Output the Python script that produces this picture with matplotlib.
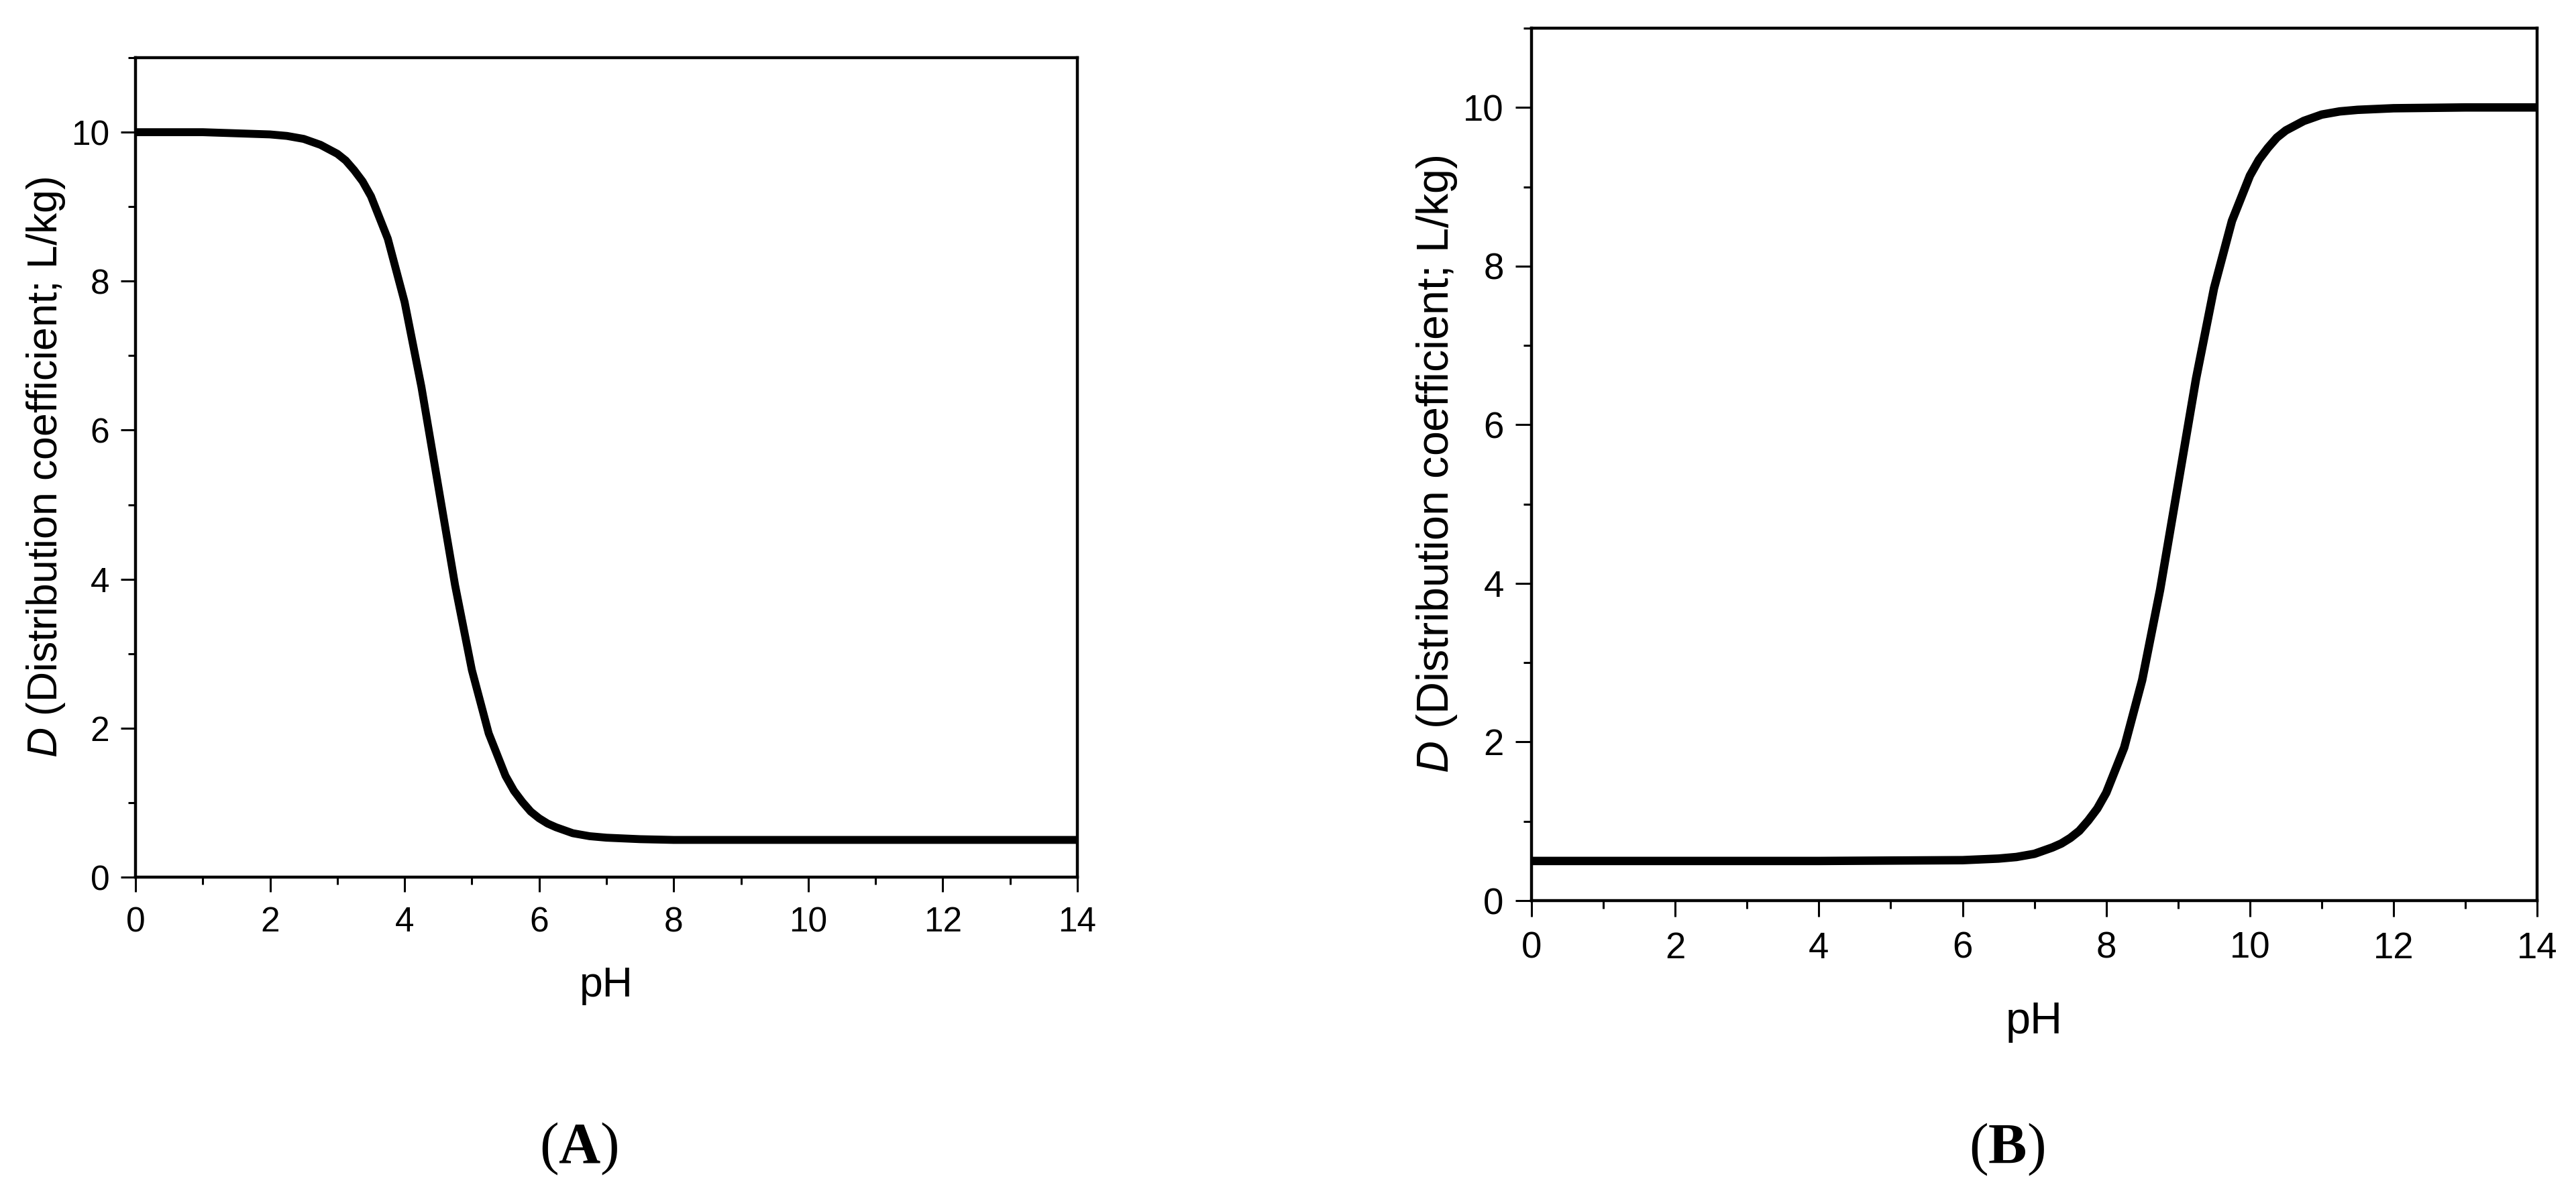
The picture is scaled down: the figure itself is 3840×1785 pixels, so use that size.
import matplotlib
matplotlib.use('Agg')
import matplotlib.pyplot as plt
from matplotlib.ticker import MultipleLocator

plt.rcParams['font.family'] = ['Liberation Sans', 'DejaVu Sans']
plt.rcParams['mathtext.fontset'] = 'custom'
plt.rcParams['mathtext.it'] = 'Liberation Sans:italic'
plt.rcParams['mathtext.rm'] = 'Liberation Sans'
plt.rcParams['mathtext.bf'] = 'Liberation Serif:bold'

# valori (pH, D)
ph_a = [0, 1, 2, 2.25, 2.5, 2.75, 3.0, 3.125, 3.25, 3.375, 3.5, 3.75, 4.0, 4.25, 4.5, 4.75,
        5.0, 5.25, 5.5, 5.625, 5.75, 5.875, 6.0, 6.125, 6.25, 6.5, 6.75, 7.0, 7.5, 8.0, 10, 12, 14]
d_a = [10.0, 10.0, 9.97, 9.95, 9.91, 9.83, 9.71, 9.62, 9.49, 9.34, 9.14, 8.57, 7.72, 6.58, 5.25, 3.92,
       2.78, 1.93, 1.36, 1.16, 1.01, 0.88, 0.79, 0.72, 0.67, 0.59, 0.55, 0.53, 0.51, 0.50, 0.50, 0.50, 0.50]

ph_b = [0, 2, 4, 6.0, 6.5, 6.75, 7.0, 7.25, 7.375, 7.5, 7.625, 7.75, 7.875, 8.0, 8.25, 8.5, 8.75, 9.0,
        9.25, 9.5, 9.75, 10.0, 10.125, 10.25, 10.375, 10.5, 10.75, 11.0, 11.25, 11.5, 12.0, 13, 14]
d_b = [0.50, 0.50, 0.50, 0.51, 0.53, 0.55, 0.59, 0.67, 0.72, 0.79, 0.88, 1.01, 1.16, 1.36, 1.93, 2.78, 3.92, 5.25,
       6.58, 7.72, 8.57, 9.14, 9.34, 9.49, 9.62, 9.71, 9.83, 9.91, 9.95, 9.97, 9.99, 10.0, 10.0]

ylabel_txt = r'$\mathit{D}$ (Distribution coefficient; L/kg)'

fig = plt.figure(figsize=(38.41, 17.85), dpi=100)

# posizioni degli assi in frazione della figura
ax_a = fig.add_axes([0.0526, 0.2672, 0.3655, 0.6846])
ax_b = fig.add_axes([0.5944, 0.2476, 0.3903, 0.7289])


def style_axis(ax, x, y, scale, ylab_x, xlab_y):
    ax.plot(x, y, color='black', lw=8.5 * scale, solid_capstyle='butt', solid_joinstyle='round')
    ax.set_xlim(0, 14)
    ax.set_ylim(0, 11)
    ax.xaxis.set_major_locator(MultipleLocator(2))
    ax.xaxis.set_minor_locator(MultipleLocator(1))
    ax.yaxis.set_major_locator(MultipleLocator(2))
    ax.yaxis.set_minor_locator(MultipleLocator(1))
    for s in ax.spines.values():
        s.set_linewidth(3.2)
    ax.tick_params(which='major', direction='out', length=16 * scale, width=2.2,
                   labelsize=37 * scale, pad=15 * scale)
    ax.tick_params(which='minor', direction='out', length=8 * scale, width=2.2)
    ax.tick_params(axis='y', which='major', pad=12 * scale)
    ax.set_xlabel('pH', fontsize=45 * scale)
    ax.set_ylabel(ylabel_txt, fontsize=45 * scale)
    ax.xaxis.set_label_coords(0.5, xlab_y)
    ax.yaxis.set_label_coords(ylab_x, 0.5)


style_axis(ax_a, ph_a, d_a, 1.0, -0.0726, -0.108)
style_axis(ax_b, ph_b, d_b, 1.064, -0.072, -0.115)

fig.text(0.2247, 0.0403, r'($\mathbf{A}$)', family='Liberation Serif', fontsize=62,
         ha='center', va='center')
fig.text(0.7788, 0.0395, r'($\mathbf{B}$)', family='Liberation Serif', fontsize=62,
         ha='center', va='center')

fig.savefig('out.png', dpi=100)
